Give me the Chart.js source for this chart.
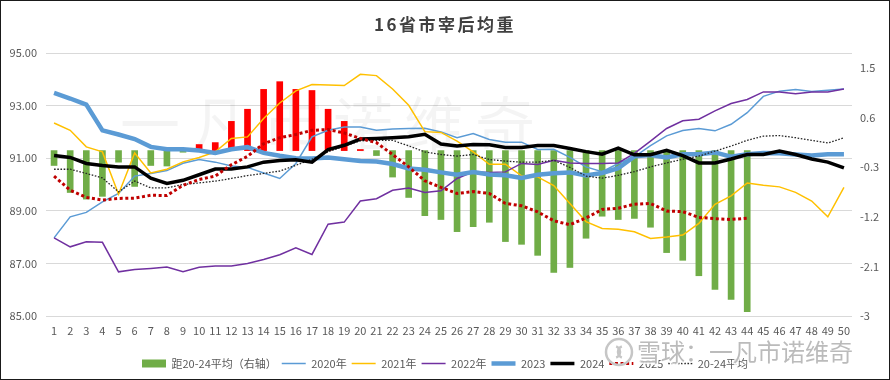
<!DOCTYPE html>
<html>
<head>
<meta charset="utf-8">
<script src="https://cdn.jsdelivr.net/npm/chart.js@4.4.0/dist/chart.umd.min.js"></script>
<style>
  body { margin: 0; background: #fff; }
  .box { position: relative; width: 888px; height: 378px; border: 1px solid #1a1a1a; }
  .title { position: absolute; left: 0; right: 0; top: 10px; text-align: center;
           font: bold 17px "Noto Sans CJK SC", sans-serif; letter-spacing: 2.5px; color: #404040; }
</style>
</head>
<body>
<div class="box">
  <div class="title">16省市宰后均重</div>
  <canvas id="chart"></canvas>
</div>
<script>
// week numbers
const weeks = ['1','2','3','4','5','6','7','8','9','10','11','12','13','14','15','16','17','18','19','20',
  '21','22','23','24','25','26','27','28','29','30','31','32','33','34','35','36','37','38','39','40',
  '41','42','43','44','45','46','47','48','49','50'];

const y2020 = [87.97, 88.77, 88.94, 89.34, 89.66, 90.32, 90.42, 90.53, 90.81, 90.95, 90.85, 90.70, 90.65, 90.44, 90.23,
  90.80, 91.81, 92.06, 92.19, 92.19, 92.06, 92.11, 92.13, 92.14, 92.00, 91.78, 91.94, 91.71, 91.61, 91.61, 91.33,
  91.34, 91.03, 90.67, 90.49, 90.80, 91.05, 91.48, 91.85, 92.05, 92.13, 92.04, 92.29, 92.73, 93.35, 93.55, 93.61,
  93.54, 93.58, 93.63];
const y2021 = [92.34, 92.06, 91.43, 91.24, 89.63, 91.20, 90.44, 90.58, 90.86, 91.03, 91.24, 91.75, 91.81, 92.51, 93.10,
  93.56, 93.80, 93.78, 93.76, 94.19, 94.14, 93.63, 93.01, 92.01, 91.98, 91.65, 91.24, 90.77, 90.77, 90.33, 90.29,
  89.96, 89.28, 88.59, 88.33, 88.30, 88.20, 87.95, 88.00, 88.08, 88.52, 89.25, 89.57, 90.06, 89.97, 89.91, 89.70,
  89.37, 88.77, 89.89];
const y2022 = [87.97, 87.63, 87.82, 87.80, 86.68, 86.77, 86.81, 86.86, 86.68, 86.85, 86.90, 86.90, 87.00, 87.15, 87.33,
  87.59, 87.34, 88.49, 88.57, 89.37, 89.46, 89.78, 89.87, 89.70, 89.76, 90.23, 90.48, 90.46, 90.48, 90.80, 90.76,
  90.92, 90.82, 90.80, 90.80, 90.82, 91.18, 91.65, 92.13, 92.42, 92.48, 92.80, 93.08, 93.23, 93.52, 93.52, 93.45,
  93.52, 93.52, 93.63];
const y2023 = [93.48, 93.27, 93.04, 92.06, 91.90, 91.73, 91.43, 91.34, 91.34, 91.29, 91.20, 91.34, 91.42, 91.20, 91.09,
  91.00, 90.99, 91.03, 90.96, 90.89, 90.87, 90.78, 90.61, 90.56, 90.46, 90.37, 90.47, 90.38, 90.35, 90.25, 90.37,
  90.43, 90.46, 90.34, 90.44, 90.62, 91.07, 91.12, 91.03, 91.15, 91.15, 91.22, 91.06, 91.15, 91.20, 91.19, 91.14,
  91.10, 91.15, 91.15];
const y2024 = [91.10, 91.03, 90.80, 90.72, 90.67, 90.67, 90.24, 90.04, 90.16, 90.37, 90.59, 90.59, 90.67, 90.85, 90.91,
  90.94, 90.85, 91.33, 91.49, 91.73, 91.75, 91.78, 91.82, 91.91, 91.54, 91.46, 91.52, 91.51, 91.41, 91.41, 91.48,
  91.48, 91.37, 91.25, 91.15, 91.38, 91.13, 91.13, 91.30, 91.10, 90.82, 90.82, 90.97, 91.14, 91.14, 91.27, 91.14,
  90.97, 90.85, 90.63];
const y2025 = [90.32, 89.78, 89.51, 89.41, 89.47, 89.48, 89.59, 89.58, 89.97, 90.19, 90.32, 90.75, 91.07, 91.55, 91.78,
  91.90, 92.06, 92.09, 91.96, 91.75, 91.59, 91.14, 90.67, 90.14, 89.89, 89.66, 89.73, 89.66, 89.28, 89.19, 88.96,
  88.62, 88.47, 88.73, 89.05, 89.10, 89.25, 89.28, 88.99, 88.97, 88.75, 88.70, 88.67, 88.72];
const avg2024 = [90.58, 90.58, 90.42, 90.25, 89.72, 90.13, 89.87, 89.87, 90.00, 90.06, 90.13, 90.23, 90.34, 90.42, 90.51,
  90.73, 90.96, 91.24, 91.46, 91.66, 91.68, 91.68, 91.47, 91.24, 91.14, 91.08, 91.14, 90.95, 90.89, 90.85, 90.85,
  90.92, 90.65, 90.32, 90.24, 90.35, 90.49, 90.67, 90.82, 90.96, 91.08, 91.27, 91.46, 91.68, 91.84, 91.86, 91.78,
  91.68, 91.58, 91.78];
// 2025 minus 20-24 average, right axis
const diff = [-0.27, -0.76, -0.88, -0.83, -0.21, -0.65, -0.27, -0.28, -0.03, 0.11, 0.145, 0.53, 0.75, 1.11, 1.25,
  1.11, 1.09, 0.75, 0.53, 0.02, -0.09, -0.48, -0.85, -1.18, -1.25, -1.47, -1.38, -1.30, -1.65, -1.70, -1.90,
  -2.21, -2.12, -1.59, -1.19, -1.25, -1.23, -1.39, -1.85, -1.99, -2.27, -2.52, -2.70, -2.92];

const rightTicks = [-3, -2.1, -1.2, -0.3, 0.6, 1.5];

const GREEN = '#70AD47';
const RED = '#FF0000';

Chart.defaults.font.family = '"Noto Sans CJK SC", "Noto Sans", sans-serif';
Chart.defaults.color = '#595959';

// faint watermarks
const watermark = {
  id: 'watermark',
  beforeDatasetsDraw(chart) {
    const ctx = chart.ctx;
    ctx.save();
    ctx.font = '60px "Noto Sans CJK SC"';
    ctx.fillStyle = 'rgba(0,0,0,0.045)';
    ctx.textBaseline = 'middle';
    [...'一凡市诺维奇'].forEach((c, k) => ctx.fillText(c, 119 + k * 71, 123));
    ctx.restore();
  },
  afterDraw(chart) {
    const ctx = chart.ctx;
    ctx.save();
    ctx.strokeStyle = '#c6c6c6';
    ctx.lineWidth = 2.5;
    ctx.beginPath();
    ctx.arc(618, 351, 13, 0, Math.PI * 2);
    ctx.stroke();
    ctx.beginPath();
    ctx.arc(613, 351, 6, -1.2, 1.2);
    ctx.stroke();
    ctx.beginPath();
    ctx.arc(623, 351, 6, Math.PI - 1.2, Math.PI + 1.2);
    ctx.stroke();
    ctx.font = '24px "Noto Sans CJK SC"';
    ctx.textBaseline = 'middle';
    ctx.lineWidth = 3;
    ctx.strokeStyle = 'rgba(255,255,255,0.8)';
    ctx.strokeText('雪球：一凡市诺维奇', 636, 351);
    ctx.fillStyle = 'rgba(175,175,175,0.85)';
    ctx.fillText('雪球：一凡市诺维奇', 636, 351);
    ctx.restore();
  }
};

const line = (label, data, color, width, order, dash) => ({
  type: 'line', label, data, borderColor: color, backgroundColor: color,
  borderWidth: width, borderDash: dash || [], pointRadius: 0, tension: 0,
  fill: false, yAxisID: 'y', order
});

new Chart(document.getElementById('chart'), {
  data: {
    labels: weeks,
    datasets: [
      {
        type: 'bar', label: '距20-24平均（右轴）', data: diff, yAxisID: 'y1', order: 9,
        backgroundColor: diff.map(v => v >= 0 ? RED : GREEN), barThickness: 6
      },
      line('2020年', y2020, '#5B9BD5', 1.5, 7),
      line('2021年', y2021, '#FFC000', 1.5, 6),
      line('2022年', y2022, '#7030A0', 1.5, 5),
      line('2023', y2023, '#5B9BD5', 4.5, 4),
      line('2024', y2024, '#000000', 3.5, 2),
      line('2025', y2025, '#C00000', 3, 1, [3, 2.6]),
      line('20-24平均', avg2024, '#262626', 1.3, 3, [1.6, 1.6])
    ]
  },
  options: {
    responsive: true,
    maintainAspectRatio: false,
    animation: false,
    layout: { padding: { top: 52, left: 0, right: 0, bottom: 0 } },
    scales: {
      x: {
        offset: true,
        grid: { display: false, drawTicks: false },
        border: { display: false },
        ticks: { autoSkip: false, maxRotation: 0, padding: 8, font: { size: 11 } },
        afterFit: s => { s.height = 37; }
      },
      y: {
        position: 'left', min: 85, max: 95,
        grid: { color: '#d9d9d9', drawTicks: false },
        border: { display: false },
        ticks: { stepSize: 2, padding: 9, font: { size: 11 }, callback: v => v.toFixed(2) },
        afterFit: s => { s.width = 45; }
      },
      y1: {
        position: 'right', min: -3, max: 1.77,
        grid: { display: false, drawTicks: false },
        border: { display: false },
        ticks: { padding: 8, font: { size: 11 }, callback: v => String(Math.round(v * 10) / 10) },
        afterBuildTicks: s => { s.ticks = rightTicks.map(v => ({ value: v })); },
        afterFit: s => { s.width = 37; }
      }
    },
    plugins: {
      title: { display: false },
      tooltip: { enabled: false },
      legend: {
        position: 'bottom',
        labels: {
          usePointStyle: true,
          pointStyleWidth: 24,
          boxHeight: 8,
          padding: 5,
          font: { size: 11 },
          color: '#595959',
          sort: (a, b) => a.datasetIndex - b.datasetIndex,
          generateLabels: chart => chart.data.datasets.map((ds, i) => {
            const isBar = ds.type === 'bar';
            return {
              text: ds.label, datasetIndex: i, hidden: false,
              fillStyle: isBar ? GREEN : ds.borderColor,
              strokeStyle: isBar ? GREEN : ds.borderColor,
              lineWidth: isBar ? 0 : ds.borderWidth,
              lineDash: ds.borderDash || [],
              pointStyle: isBar ? 'rect' : 'line',
              fontColor: '#595959'
            };
          })
        }
      }
    }
  },
  plugins: [watermark]
});
</script>
</body>
</html>
